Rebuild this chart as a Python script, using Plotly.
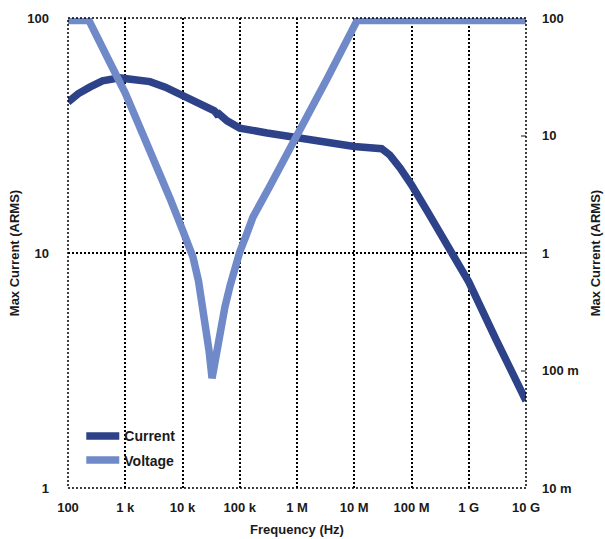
import plotly.graph_objects as go

# ---- data ----
current_freq = [100, 150, 240, 400, 800, 1500, 2700, 5000, 10e3, 20e3, 36e3, 40e3,
                43e3, 60e3, 100e3, 300e3, 1e6, 3e6, 10e6, 30e6, 42e6, 63e6, 100e6, 200e6,
                470e6, 1e9, 3e9, 10e9]
current_val = [43.9, 47.6, 50.8, 54.0, 55.6, 55.0, 53.6, 50.8, 47.0, 43.5, 40.3, 39.0,
               39.2, 36.5, 34.0, 32.4, 30.8, 29.6, 28.4, 27.8, 26.1, 23.0, 19.5, 14.7,
               10.3, 7.54, 4.28, 2.35]

voltage_freq = [100, 233, 500, 1000, 2000, 3600, 6000, 10e3, 12.5e3, 15.2e3, 19e3, 22.8e3,
                26e3, 29e3, 31e3, 32.8e3, 35e3, 40e3, 47e3, 55e3, 68e3, 82.6e3, 100e3,
                130e3, 170e3, 337e3, 1e6, 3.34e6, 11.2e6, 10e9]
voltage_val = [95, 95, 45.0, 23.0, 10.4, 5.4, 2.94, 1.57, 1.17, 0.925, 0.58, 0.347,
               0.23, 0.149, 0.112, 0.086, 0.102, 0.149, 0.223, 0.347, 0.53, 0.79, 1.02,
               1.42, 2.02, 3.72, 9.7, 30.2, 95, 95]

x_tickvals = [1e2, 1e3, 1e4, 1e5, 1e6, 1e7, 1e8, 1e9, 1e10]
x_ticktext = ["100", "1 k", "10 k", "100 k", "1 M", "10 M", "100 M", "1 G", "10 G"]
y_tickvals = [1, 10, 100]
y_ticktext = ["1", "10", "100"]
y2_tickvals = [0.01, 0.1, 1, 10, 100]
y2_ticktext = ["10 m", "100 m", "1", "10", "100"]

FONT = "Liberation Sans, Arial, sans-serif"
tickfont = dict(family=FONT, size=13, color="#1a1a1a", weight="bold")
titlefont = dict(family=FONT, size=13, color="#1a1a1a", weight="bold")

fig = go.Figure()
fig.add_trace(go.Scatter(x=current_freq, y=current_val, name="Current", mode="lines",
                         line=dict(color="#2D4289", width=7.5),
                         yaxis="y", legendgroup="a"))
fig.add_trace(go.Scatter(x=voltage_freq, y=voltage_val, name="Voltage", mode="lines",
                         line=dict(color="#6F89C9", width=7.5),
                         yaxis="y2", legendgroup="b"))

grid = dict(showgrid=True, gridcolor="black", gridwidth=1.5, griddash="2px,2px")

fig.update_layout(
    width=605, height=539,
    margin=dict(l=68, r=79, t=18, b=51, autoexpand=False),
    paper_bgcolor="white", plot_bgcolor="white",
    showlegend=True,
    legend=dict(x=0.029, y=0.144, xanchor="left", yanchor="top", bgcolor="rgba(0,0,0,0)",
                font=dict(family=FONT, size=14, color="#1a1a1a", weight="bold"),
                tracegroupgap=3, itemwidth=33),
    xaxis=dict(type="log", range=[2, 10], tickvals=x_tickvals, ticktext=x_ticktext,
               tickfont=tickfont, ticks="", showline=False, zeroline=False, automargin=False,
               ticklabelstandoff=10,
               title=dict(text="Frequency (Hz)", font=titlefont, standoff=10), **grid),
    yaxis=dict(type="log", range=[0, 2], tickvals=y_tickvals, ticktext=y_ticktext,
               tickfont=tickfont, ticks="", showline=False, zeroline=False, automargin=False,
               ticklabelstandoff=18,
               title=dict(text="Max Current (ARMS)", font=titlefont, standoff=4), **grid),
    yaxis2=dict(type="log", range=[-2, 2], tickvals=y2_tickvals, ticktext=y2_ticktext,
                overlaying="y", side="right", showgrid=False, zeroline=False, showline=False,
                ticks="inside", ticklen=5, tickwidth=1.5, tickcolor="#888", automargin=False,
                tickfont=tickfont, ticklabelstandoff=15,
                title=dict(text="Max Current (ARMS)", font=titlefont, standoff=13)),
    shapes=[dict(type="rect", xref="paper", yref="paper", x0=0, x1=1, y0=0, y1=1,
                 line=dict(color="black", width=1.5, dash="2px,2px"), layer="above")],
)

fig.write_html("out.html", config={"displayModeBar": False},
               post_script="document.body.style.margin='0';document.body.style.overflow='hidden';")
